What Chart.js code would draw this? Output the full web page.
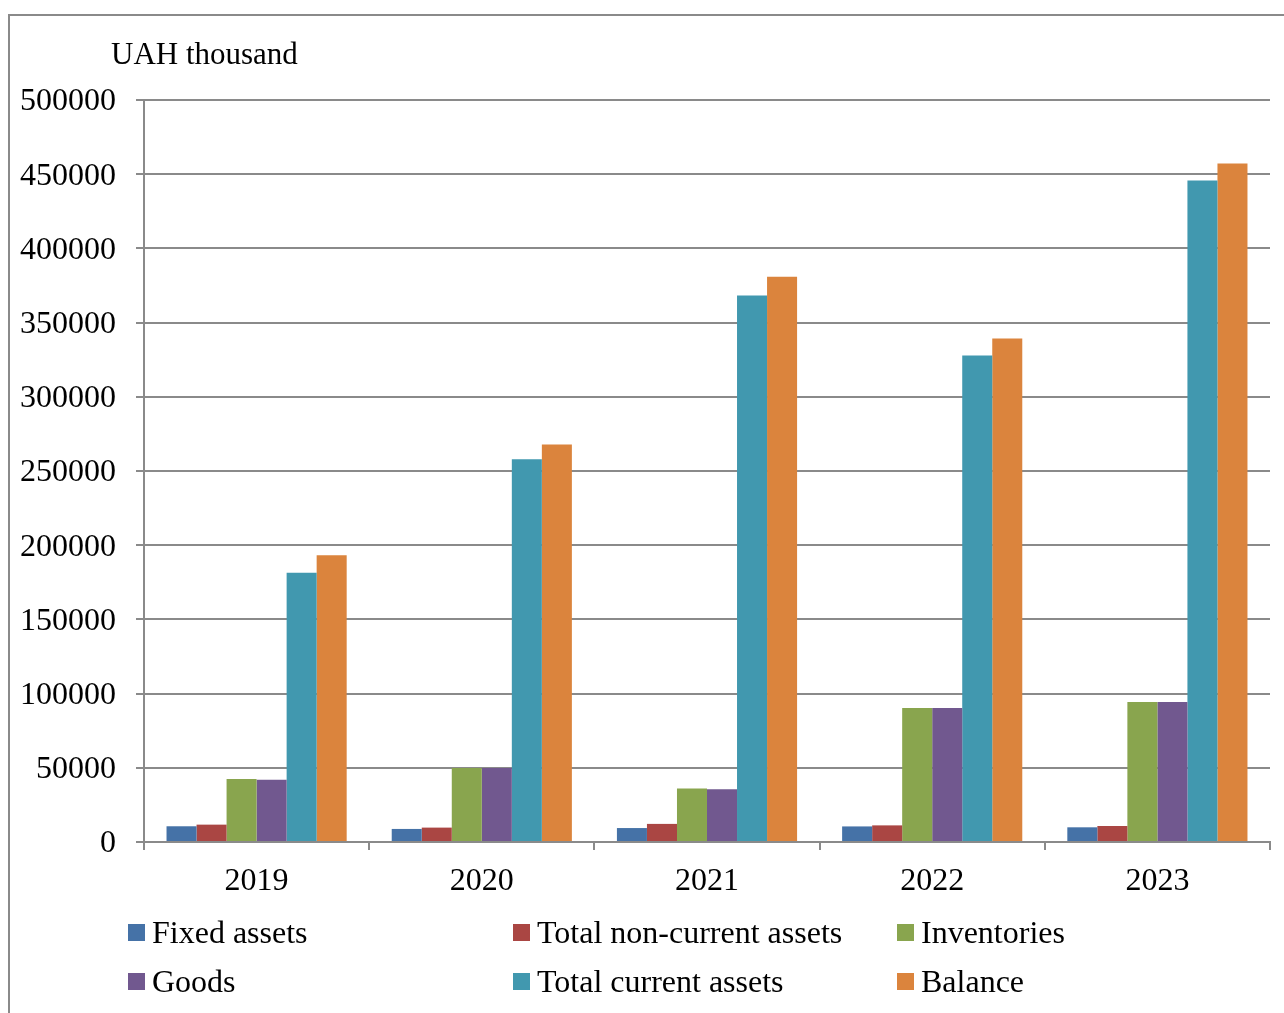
<!DOCTYPE html>
<html>
<head>
<meta charset="utf-8">
<script src="https://cdn.jsdelivr.net/npm/chart.js@4"></script>
<style>
  html, body { margin: 0; padding: 0; background: #fff; overflow: hidden; }
  #frame { position: absolute; left: 8px; top: 14px; width: 1400px; height: 1100px;
           border-left: 2px solid #8a8a8a; border-top: 2px solid #8a8a8a; }
  #wrap { position: absolute; left: 0; top: 0; width: 1284px; height: 1013px; }
  #legend { position: absolute; left: 128px; top: 908px; font-family: "Liberation Serif", serif;
            font-size: 32px; color: #000; display: grid;
            grid-template-columns: 385px 384px 300px; grid-auto-rows: 49px; }
  .item { display: flex; align-items: center; white-space: nowrap; }
  .box { width: 17px; height: 17px; margin-right: 7px; flex: none; }
</style>
</head>
<body>
<div id="frame"></div>
<div id="wrap"><canvas id="myChart" width="1284" height="1013"></canvas></div>
<div id="legend"></div>
<script>
const years = ['2019', '2020', '2021', '2022', '2023'];
const seriesNames = ['Fixed assets', 'Total non-current assets', 'Inventories', 'Goods', 'Total current assets', 'Balance'];
const fixedAssets = [10600, 8800, 9400, 10500, 9900];
const nonCurrentAssets = [11700, 9700, 12200, 11200, 10800];
const inventories = [42500, 49900, 36100, 90300, 94300];
const goods = [42000, 49800, 35600, 90300, 94300];
const currentAssets = [181500, 257900, 368200, 327900, 445800];
const balance = [193200, 267800, 380900, 339300, 457200];
const colors = ['#4572A7', '#AA4643', '#89A54E', '#71588F', '#4198AF', '#DB843D'];

const allValues = [fixedAssets, nonCurrentAssets, inventories, goods, currentAssets, balance];
const font = { family: '"Liberation Serif", serif', size: 32 };
const gridColor = '#8a8a8a';

// y axis caption drawn above the axis
const unitLabel = {
  id: 'unitLabel',
  afterDraw(chart) {
    const c = chart.ctx;
    c.save();
    c.font = '31px "Liberation Serif", serif';
    c.fillStyle = '#000';
    c.textBaseline = 'alphabetic';
    c.fillText('UAH thousand', chart.chartArea.left - 33, 64);
    c.restore();
  }
};

const ctx = document.getElementById('myChart').getContext('2d');
const myChart = new Chart(ctx, {
  type: 'bar',
  data: {
    labels: years,
    datasets: seriesNames.map((name, i) => ({
      label: name,
      data: allValues[i],
      backgroundColor: colors[i],
      borderWidth: 0,
      categoryPercentage: 0.8,
      barPercentage: 1.0,
    })),
  },
  options: {
    responsive: false,
    animation: false,
    layout: { padding: { top: 100, right: 14, left: 0, bottom: 0 } },
    plugins: { legend: { display: false }, tooltip: { enabled: false } },
    scales: {
      x: {
        afterFit(scale) { scale.height = 171; },
        grid: { drawOnChartArea: false, drawTicks: true, tickLength: 8, color: gridColor, lineWidth: 2 },
        border: { color: gridColor, width: 2 },
        ticks: { color: '#000', font: font, padding: 12 },
      },
      y: {
        min: 0,
        max: 500000,
        afterFit(scale) { scale.width = 144; },
        grid: { color: gridColor, lineWidth: 2, tickLength: 8 },
        border: { color: gridColor, width: 2 },
        ticks: { stepSize: 50000, color: '#000', font: font, padding: 20, labelOffset: 2,
                 callback: (v) => String(v) },
      },
    },
  },
  plugins: [unitLabel],
});

// legend in three fixed columns, like the original
const legend = document.getElementById('legend');
seriesNames.forEach((name, i) => {
  const item = document.createElement('div');
  item.className = 'item';
  const box = document.createElement('span');
  box.className = 'box';
  box.style.background = colors[i];
  item.appendChild(box);
  item.appendChild(document.createTextNode(name));
  legend.appendChild(item);
});
</script>
</body>
</html>
